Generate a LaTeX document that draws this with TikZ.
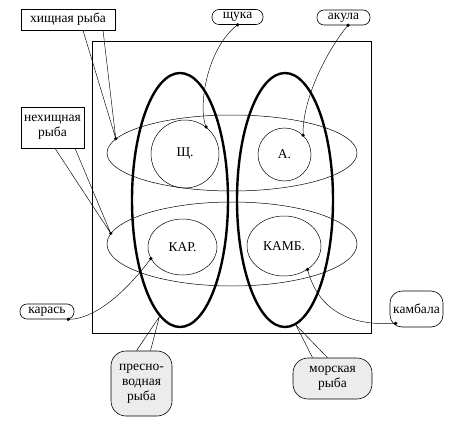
\documentclass[tikz,border=0pt]{standalone}
\usepackage{fontspec}
\setmainfont{Liberation Serif}
\usetikzlibrary{shapes.geometric}

\begin{document}
\begin{tikzpicture}[x=1pt,y=-1pt,
    font=\fontsize{13.5}{15}\selectfont,
    setline/.style={ellipse,draw,line width=0.5pt,inner sep=0pt},
    groupline/.style={ellipse,draw,line width=2.4pt,inner sep=0pt},
    tagbox/.style={draw,line width=0.6pt,inner sep=0pt,align=center},
    pillbox/.style={tagbox,rounded corners=7pt},
    classbox/.style={tagbox,rounded corners=15pt,fill=gray!15},
    linkline/.style={line width=0.45pt},
    dotmark/.style={fill=black}]

    \useasboundingbox (0,0) rectangle (454,422);

    \node[draw,line width=0.8pt,minimum width=279,minimum height=292] (field) at (231.5,187) {};

    \node[setline,minimum width=250,minimum height=76] (predator) at (232,153) {};
    \node[setline,minimum width=250,minimum height=84] (peaceful) at (232,244) {};

    \node[groupline,minimum width=96,minimum height=254] (fresh) at (180,200) {};
    \node[groupline,minimum width=96,minimum height=254] (marine) at (285,200) {};

    \node[setline,circle,minimum size=68] (shch) at (185,154) {Щ.};
    \node[setline,circle,minimum size=53] (akul) at (284.5,154.5) {А.};
    \node[setline,minimum width=69,minimum height=56] (kar) at (182.5,247) {КАР.};
    \node[setline,minimum width=74,minimum height=60] (kamb) at (284,246) {КАМБ.};

    \node[tagbox,minimum width=94,minimum height=21] (lhish) at (68,19.5) {хищная рыба};
    \node[tagbox,minimum width=63,minimum height=41] (lnonhish) at (52.5,127.5) {нехищная\\рыба};
    \node[pillbox,minimum width=51,minimum height=15] (lshch) at (237.5,17) {щука};
    \node[pillbox,minimum width=53,minimum height=15] (lakul) at (343.5,17.5) {акула};
    \node[pillbox,minimum width=54,minimum height=15] (lkaras) at (47,311.5) {карась};
    \node[tagbox,rounded corners=12pt,minimum width=53,minimum height=36] (lkamb) at (416.5,309) {камбала};
    \node[classbox,minimum width=61,minimum height=65] (lfresh) at (141.5,383.5) {пресно-\\водная\\рыба};
    \node[classbox,minimum width=79,minimum height=41] (lmarine) at (332.5,378.5) {морская\\рыба};

    \draw[linkline] ([xshift=15pt]lhish.south) -- (predator.173)
        -- ([xshift=35pt]lhish.south);
    \draw[linkline] ([xshift=2.5pt]lnonhish.south) -- (peaceful.175)
        -- ([xshift=22.5pt]lnonhish.south);
    \draw[linkline] ([xshift=-5pt]lfresh.north) -- (fresh.260)
        -- ([xshift=9pt]lfresh.north);
    \draw[linkline] ([xshift=-20pt]lmarine.north) -- (marine.275)
        -- ([xshift=-5pt]lmarine.north);

    \draw[linkline] (lshch.south) .. controls +(-32,25) and +(-8,-18) .. (shch.52);
    \draw[linkline] ([xshift=4.5pt]lakul.south) .. controls +(-18,21) and +(-1,-39) .. (akul.46);
    \draw[linkline] ([xshift=-6pt]lkaras.south east) .. controls +(32,0) and +(-16,22) .. (kar.200);
    \draw[linkline] ([xshift=6pt,yshift=4pt]lkamb.south west) .. controls +(-46,3) and +(11,41) .. (kamb.-45);

    \fill[dotmark] (predator.173) circle (1.8pt);
    \fill[dotmark] (peaceful.175) circle (1.8pt);
    \fill[dotmark] (lshch.south) circle (1.8pt);
    \fill[dotmark] (shch.52) circle (1.8pt);
    \fill[dotmark] ([xshift=4.5pt]lakul.south) circle (1.8pt);
    \fill[dotmark] (akul.46) circle (1.8pt);
    \fill[dotmark] ([xshift=-6pt]lkaras.south east) circle (1.8pt);
    \fill[dotmark] (kar.200) circle (1.8pt);
    \fill[dotmark] ([xshift=6pt,yshift=4pt]lkamb.south west) circle (1.8pt);
    \fill[dotmark] (kamb.-45) circle (1.8pt);
\end{tikzpicture}
\end{document}
